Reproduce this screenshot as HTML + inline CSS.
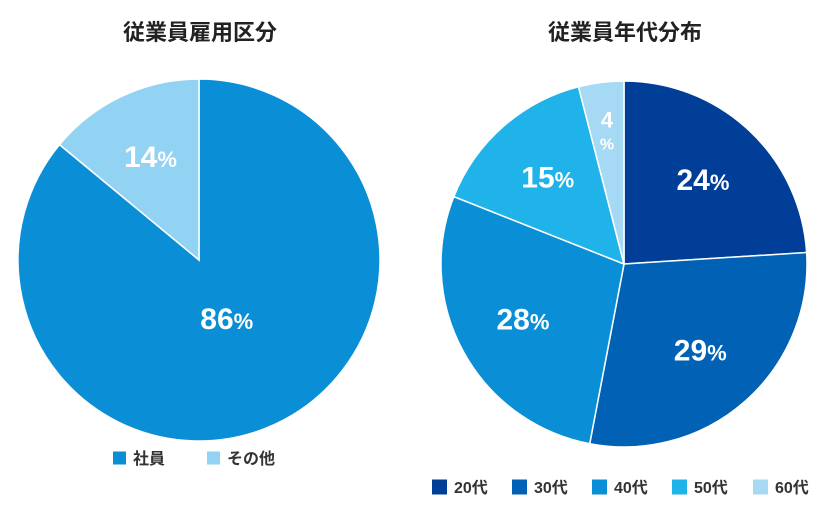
<!DOCTYPE html>
<html><head><meta charset="utf-8"><style>
body{margin:0;background:#fff;width:830px;height:510px;overflow:hidden;font-family:"Liberation Sans","Noto Sans CJK JP",sans-serif}
svg text{font-family:"Liberation Sans","Noto Sans CJK JP",sans-serif}
</style></head><body>
<svg id="c" width="830" height="510">
<text x="200" y="40" text-anchor="middle" font-size="22" font-weight="bold" fill="#222">従業員雇用区分</text>
<text x="625" y="40" text-anchor="middle" font-size="22" font-weight="bold" fill="#222">従業員年代分布</text>
</svg>
<script>
const empCategories=["社員","その他"];
const empValues=[86,14];
const empColors=["#0a8fd6","#92d2f3"];
const ageCategories=["20代","30代","40代","50代","60代"];
const ageValues=[24,29,28,15,4];
const ageColors=["#003e97","#0061b5","#0a8fd6","#1fb3ea","#a6d9f4"];
const NS="http://www.w3.org/2000/svg";
const svg=document.getElementById('c');
function mk(t,a){const e=document.createElementNS(NS,t);for(const k in a)e.setAttribute(k,a[k]);svg.appendChild(e);return e;}
function pie(name,cx,cy,r,vals,cols,cats,legX,legY,legStep,legSize){
  const tot=vals.reduce((a,b)=>a+b,0);let acc=0;
  vals.forEach((v,i)=>{
    const a0=acc/tot*2*Math.PI;acc+=v;const a1=acc/tot*2*Math.PI;
    const x0=cx+r*Math.sin(a0),y0=cy-r*Math.cos(a0),x1=cx+r*Math.sin(a1),y1=cy-r*Math.cos(a1);
    const large=(a1-a0)>Math.PI?1:0;
    const p=mk('path',{d:`M${cx},${cy}L${x0},${y0}A${r},${r} 0 ${large} 1 ${x1},${y1}Z`,fill:cols[i],stroke:'#fff','stroke-width':1.5});
    
    
    const am=(a0+a1)/2;const frac=v/tot;
    const k=frac>0.5?0.36:(frac<0.06?0.74:0.63);
    const lx=cx+r*k*Math.sin(am),ly=cy-r*k*Math.cos(am);
    const t=mk('text',{x:lx,y:ly+10,'text-anchor':'middle','font-size':frac<0.06?22:30,'font-weight':'bold',fill:'#fff'});
    
    
    if(frac<0.06){
      t.setAttribute('y',ly-2);t.textContent=v;
      const t2=mk('text',{x:lx,y:ly+20,'text-anchor':'middle','font-size':16,'font-weight':'bold',fill:'#fff'});
      t2.textContent='%';
      
      
    } else {
      t.textContent=v;
      const ts=document.createElementNS(NS,'tspan');ts.setAttribute('font-size','22');ts.textContent='%';t.appendChild(ts);
    }
  });
  cats.forEach((c,i)=>{
    const x=legX+i*legStep[i===0?0:1]*0+ (legStep.length>2?legStep[i]:i*legStep[0]);
    const s=mk('rect',{x:x,y:legY-legSize/2,width:legSize,height:legSize,fill:cols[i]});
    
    
    const t=mk('text',{x:x+legSize+7,y:legY+6,'font-size':16,'font-weight':'bold',fill:'#333'});
    t.textContent=c;
    
    
  });
}
pie('employment',199,260,181,empValues,empColors,empCategories,0,458,[113,207,0],13);
pie('age',624,264,183,ageValues,ageColors,ageCategories,0,487,[432,512,592,672,753],15);
</script>
</body></html>
